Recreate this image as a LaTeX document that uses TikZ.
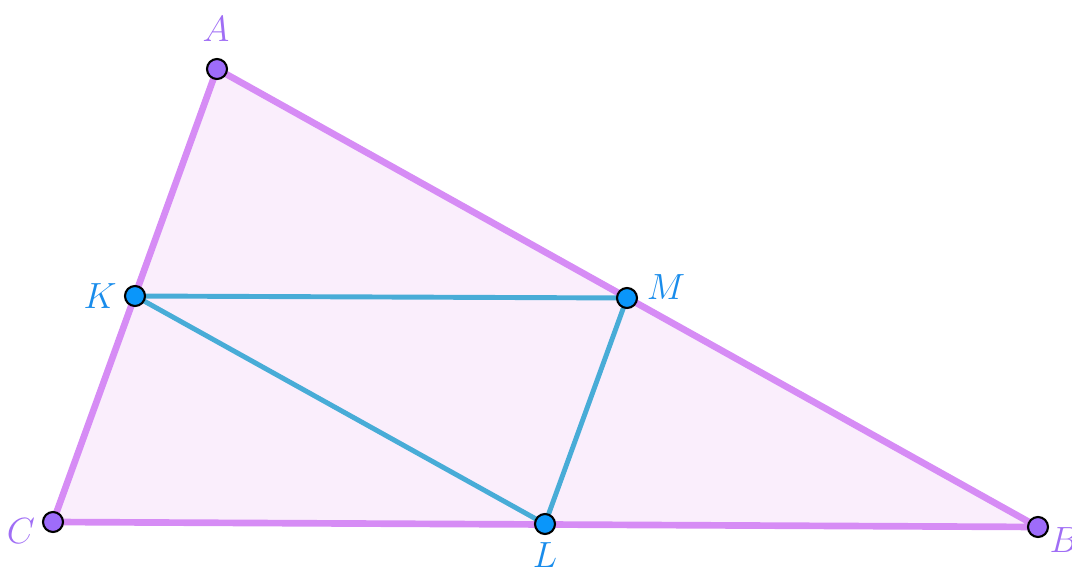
\documentclass[tikz,border=0pt]{standalone}
\usepackage{xcolor}
\definecolor{edgev}{RGB}{214,140,245}
\definecolor{fillv}{RGB}{250,238,252}
\definecolor{ptv}{RGB}{158,108,250}
\definecolor{labv}{RGB}{160,110,245}
\definecolor{ptb}{RGB}{10,150,250}
\definecolor{labb}{RGB}{25,140,235}
\definecolor{segb}{RGB}{72,172,215}
\begin{document}
\begin{tikzpicture}[x={(0.02cm,0)},y={(0,-0.02cm)},
  vpt/.style={circle,draw=black,fill=ptv,line width=1.2pt,minimum size=0.4cm,inner sep=0pt},
  bpt/.style={circle,draw=black,fill=ptb,line width=1.2pt,minimum size=0.4cm,inner sep=0pt},
  vlab/.style={text=labv,font=\fontsize{22}{24}\selectfont\itshape,inner sep=0pt},
  blab/.style={text=labb,font=\fontsize{22}{24}\selectfont\itshape,inner sep=0pt},
  tri/.style={draw=edgev,line width=3.8pt,line cap=round,line join=round},
  seg/.style={draw=segb,line width=2.8pt,line cap=round}]
\useasboundingbox (0,0) rectangle (1072,570);
\coordinate (A) at (217,69);
\coordinate (B) at (1038,527);
\coordinate (C) at (53,522);
\coordinate (K) at (135,296);
\coordinate (M) at (627,298);
\coordinate (L) at (545,524);
\fill[fillv] (A) -- (B) -- (C) -- cycle;
\draw[tri] (A) -- (B) -- (C) -- cycle;
\draw[seg] (K) -- (M) -- (L) -- (K);
\node[vpt] (pA) at (A) {};
\node[vpt] (pB) at (B) {};
\node[vpt] (pC) at (C) {};
\node[bpt] (pK) at (K) {};
\node[bpt] (pM) at (M) {};
\node[bpt] (pL) at (L) {};
\node[vlab] (lA) at (216,29) {$A$};
\node[vlab] (lB) at (1064,540) {$B$};
\node[vlab] (lC) at (21,531) {$C$};
\node[blab] (lK) at (100,296) {$K$};
\node[blab] (lM) at (666,287) {$M$};
\node[blab] (lL) at (545,555) {$L$};
\end{tikzpicture}
\end{document}
